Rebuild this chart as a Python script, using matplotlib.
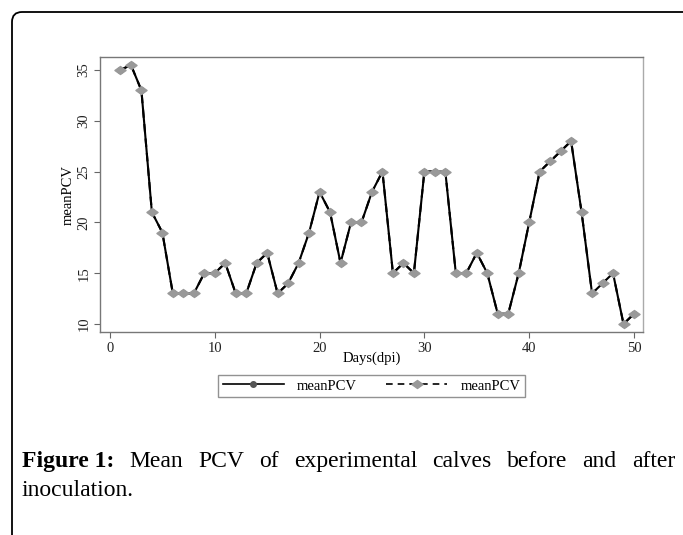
import matplotlib
matplotlib.use("Agg")
import matplotlib.pyplot as plt
from matplotlib.path import Path
from matplotlib.patches import FancyBboxPatch
from matplotlib.transforms import IdentityTransform
from matplotlib.lines import Line2D

days = list(range(1, 51))
mean_pcv = [35, 35.5, 33, 21, 19, 13, 13, 13, 15, 15,
            16, 13, 13, 16, 17, 13, 14, 16, 19, 23,
            21, 16, 20, 20, 23, 25, 15, 16, 15, 25,
            25, 25, 15, 15, 17, 15, 11, 11, 15, 20,
            25, 26, 27, 28, 21, 13, 14, 15, 10, 11]
x_ticks = [0, 10, 20, 30, 40, 50]
y_ticks = [10, 15, 20, 25, 30, 35]
series_label = "meanPCV"
x_label = "Days(dpi)"
caption_bold = "Figure 1:"
caption_words = ["Mean", "PCV", "of", "experimental", "calves", "before", "and", "after"]
caption_line2 = "inoculation."

plt.rcParams['font.family'] = ['Liberation Serif', 'DejaVu Serif']

W, H = 683, 535
fig = plt.figure(figsize=(W / 100, H / 100), dpi=100)

# card outline
card = FancyBboxPatch((12, -30), 720, H - 12 + 30,
                      boxstyle="round,pad=0,rounding_size=10",
                      transform=IdentityTransform(), fill=False,
                      edgecolor='black', linewidth=1.3)
fig.patches.append(card)

left, right, top, bottom = 100, 643, 57, 332
ax = fig.add_axes([left / W, 1 - bottom / H, (right - left) / W, (bottom - top) / H])

diamond = Path([(-1, 0), (0, 0.72), (1, 0), (0, -0.72), (-1, 0)],
               [Path.MOVETO, Path.LINETO, Path.LINETO, Path.LINETO, Path.CLOSEPOLY])

ax.plot(days, mean_pcv, color='black', linewidth=1.5, linestyle='-',
        marker='o', markersize=4, markerfacecolor='#555555', markeredgecolor='#555555', zorder=2)
ax.plot(days, mean_pcv, color='black', linewidth=1.5, linestyle=(0, (4, 3)),
        marker=diamond, markersize=8, markerfacecolor='#999999', markeredgecolor='#999999', zorder=3)

ax.set_xlim(-0.95, 50.86)
ax.set_ylim(9.21, 36.28)
ax.set_xticks(x_ticks)
ax.set_yticks(y_ticks)
ax.tick_params(axis='both', direction='out', length=4, width=0.8, color='#666666',
               labelsize=10.5, labelcolor='#222222', pad=3)
for lab in ax.get_yticklabels():
    lab.set_rotation(90)
    lab.set_va('center')
for s in ax.spines.values():
    s.set_color('#777777')
    s.set_linewidth(1.0)
ax.spines['right'].set_color('#aaaaaa')

fig.text(68 / W, 1 - 195 / H, series_label, rotation=90, ha='center', va='center', fontsize=10.5)
fig.text(372 / W, 1 - 358 / H, x_label, ha='center', va='center', fontsize=10.5)

h1 = Line2D([], [], color='black', linewidth=1.2, linestyle='-', marker='o', markersize=4,
            markerfacecolor='#555555', markeredgecolor='#555555')
h2 = Line2D([], [], color='black', linewidth=1.2, linestyle=(0, (4, 3)), marker=diamond, markersize=8,
            markerfacecolor='#999999', markeredgecolor='#999999')
leg = fig.legend([h1, h2], [series_label, series_label], ncol=2, loc='center',
                 bbox_to_anchor=(371.5 / W, 1 - 386 / H), frameon=True, fancybox=False,
                 edgecolor='#777777', fontsize=10.5, handlelength=4.2, columnspacing=2.0,
                 borderpad=0.3, handletextpad=0.9)
leg.get_frame().set_linewidth(1.0)

# caption, justified first line
cap_fs = 17
y1 = 1 - 467 / H
y2 = 1 - 496 / H
x_left, x_right = 22, 675
texts = [fig.text(x_left / W, y1, caption_bold, fontsize=cap_fs, fontweight='bold', va='baseline')]
for w in caption_words:
    texts.append(fig.text(0, y1, w, fontsize=cap_fs, va='baseline'))
fig.canvas.draw()
r = fig.canvas.get_renderer()
widths = [t.get_window_extent(r).width for t in texts]
gap = (x_right - x_left - sum(widths)) / (len(texts) - 1)
x = x_left
for t, wd in zip(texts, widths):
    t.set_x(x / W)
    x += wd + gap
fig.text(x_left / W, y2, caption_line2, fontsize=cap_fs, va='baseline')

fig.savefig("out.png", dpi=100)
